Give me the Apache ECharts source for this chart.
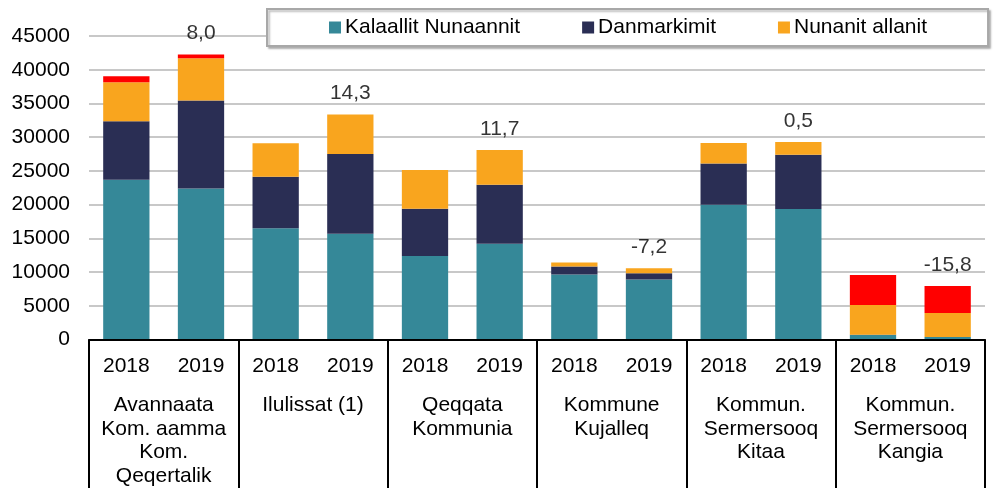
<!DOCTYPE html>
<html>
<head>
<meta charset="utf-8">
<script src="https://cdn.jsdelivr.net/npm/echarts@6/dist/echarts.min.js"></script>
<style>
  html, body { margin: 0; padding: 0; background: #fff; }
  #chart { width: 995px; height: 488px; }
</style>
</head>
<body>
<div id="chart"></div>
<script>
// 年份（每个地区两根柱）
const years = ['2018', '2019', '2018', '2019', '2018', '2019', '2018', '2019', '2018', '2019', '2018', '2019'];
// 地区
const regions = [
  'Avannaata\nKom. aamma\nKom.\nQeqertalik',
  'Ilulissat (1)',
  'Qeqqata\nKommunia',
  'Kommune\nKujalleq',
  'Kommun.\nSermersooq\nKitaa',
  'Kommun.\nSermersooq\nKangia'
];
// 各系列数值
const kalaallit = [23700, 22400, 16500, 15700, 12400, 14200, 9650, 8900, 20000, 19350, 690, 370];
const danmarkimit = [8650, 13050, 7650, 11800, 6980, 8770, 1170, 930, 6100, 8040, 40, 30];
const allanit = [5800, 6250, 4970, 5850, 5750, 5150, 590, 760, 3030, 1900, 4380, 3560];
const allat = [880, 540, 0, 0, 0, 0, 0, 0, 0, 0, 4480, 4000];
// 变化百分比（只标在2019）
const pctChange = [null, '8,0', null, '14,3', null, '11,7', null, '-7,2', null, '0,5', null, '-15,8'];

const colors = ['#358898', '#2a2e54', '#f9a51e', '#ff0000'];

const totals = years.map((_, i) => kalaallit[i] + danmarkimit[i] + allanit[i] + allat[i]);

const chart = echarts.init(document.getElementById('chart'), null, { renderer: 'canvas' });

const barBase = {
  type: 'bar',
  stack: 'total',
  barCategoryGap: '38%',
  xAxisIndex: 0,
  yAxisIndex: 0
};

const option = {
  animation: false,
  textStyle: { fontFamily: 'Liberation Sans, Arial, sans-serif' },
  grid: { left: 89, right: 10, top: 36, bottom: 146, containLabel: false },
  legend: {
    data: ['Kalaallit Nunaannit', 'Danmarkimit', 'Nunanit allanit'],
    left: 267,
    top: 9,
    icon: 'rect',
    itemWidth: 12,
    itemHeight: 12,
    itemGap: 62,
    padding: [8, 61, 8, 62],
    backgroundColor: '#fff',
    borderColor: '#a8a8a8',
    borderWidth: 2,
    shadowColor: 'rgba(0,0,0,0.25)',
    shadowBlur: 2,
    shadowOffsetX: 2,
    shadowOffsetY: 2,
    textStyle: { fontSize: 21, color: '#000', padding: [0, 0, 0, -1] },
    z: 10
  },
  xAxis: [
    {
      type: 'category',
      data: years,
      axisLine: { lineStyle: { color: '#000', width: 2 } },
      axisTick: { show: false },
      axisLabel: { fontSize: 21, color: '#000', margin: 15, lineHeight: 23, interval: 0 },
      z: 5
    },
    {
      type: 'category',
      data: regions,
      position: 'bottom',
      axisLine: { show: false },
      axisTick: { show: true, interval: 0, length: 160, lineStyle: { color: '#000', width: 2 } },
      axisLabel: { fontSize: 21, color: '#000', margin: 54, lineHeight: 23.6, interval: 0 },
      splitLine: { show: false }
    }
  ],
  yAxis: {
    type: 'value',
    min: 0,
    max: 45000,
    interval: 5000,
    axisLine: { show: false },
    axisTick: { show: false },
    axisLabel: { fontSize: 21, color: '#000', margin: 19, formatter: (v) => String(v) },
    splitLine: { lineStyle: { color: '#c8c8c8', width: 2 } }
  },
  series: [
    { ...barBase, name: 'Kalaallit Nunaannit', data: kalaallit, itemStyle: { color: colors[0] } },
    { ...barBase, name: 'Danmarkimit', data: danmarkimit, itemStyle: { color: colors[1] } },
    { ...barBase, name: 'Nunanit allanit', data: allanit, itemStyle: { color: colors[2] } },
    { ...barBase, name: 'Allat', data: allat, itemStyle: { color: colors[3] } },
    {
      type: 'scatter',
      name: 'pct',
      xAxisIndex: 0,
      symbolSize: 1,
      itemStyle: { color: 'transparent' },
      data: totals.map((t, i) => (pctChange[i] ? { value: t, label: { formatter: pctChange[i] } } : null)),
      label: { show: true, position: 'top', distance: 10, fontSize: 21, color: '#000' },
      silent: true,
      z: 6
    }
  ]
};

chart.setOption(option);
</script>
</body>
</html>
